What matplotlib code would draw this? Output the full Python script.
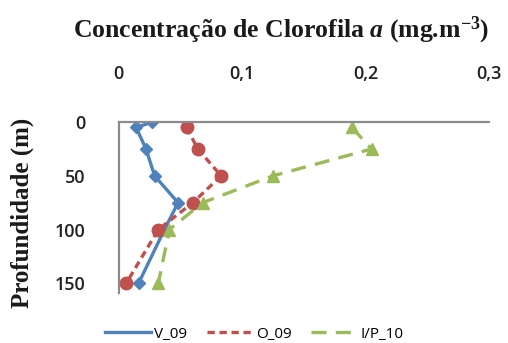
import matplotlib
matplotlib.use("Agg")
import matplotlib.pyplot as plt
from matplotlib.lines import Line2D

# -----------------------------
# Data: chlorophyll a profiles
# -----------------------------
depth_v09 = [0, 5, 25, 50, 75, 100, 150]
chl_v09 = [0.027, 0.014, 0.022, 0.029, 0.048, 0.037, 0.016]

depth_o09 = [5, 25, 50, 75, 100, 150]
chl_o09 = [0.055, 0.064, 0.083, 0.060, 0.032, 0.006]

depth_ip10 = [5, 25, 50, 75, 100, 150]
chl_ip10 = [0.189, 0.205, 0.125, 0.068, 0.041, 0.032]

x_ticks = [0, 0.1, 0.2, 0.3]
x_labels = ["0", "0,1", "0,2", "0,3"]
y_ticks = [0, 50, 100, 150]

blue = "#4F81BD"
red = "#C0504D"
green = "#9BBB59"
axis_gray = "#8C8C8C"

plt.rcParams["mathtext.fontset"] = "custom"
plt.rcParams["mathtext.it"] = "Liberation Serif:italic:bold"
plt.rcParams["mathtext.bf"] = "Liberation Serif:bold"
plt.rcParams["mathtext.rm"] = "Liberation Serif:bold"

red_dash = (0, (2.2, 1.4))
green_dash = (0, (4.5, 2.8))

# -----------------------------
# Figure setup
# -----------------------------
fig = plt.figure(figsize=(5.08, 3.43), dpi=100)
ax = fig.add_axes([0.234, 0.146, 0.728, 0.498])

ax.plot(chl_v09, depth_v09, color=blue, lw=2.4, marker="D", ms=6,
        markeredgecolor=blue, label="V_09")
ax.plot(chl_o09, depth_o09, color=red, lw=2.4, ls=red_dash, marker="o",
        ms=9, markeredgecolor=red, label="O_09")
ax.plot(chl_ip10, depth_ip10, color=green, lw=2.4, ls=green_dash, marker="^",
        ms=9, markeredgecolor=green, label="I/P_10")

ax.set_xlim(0, 0.3)
ax.set_ylim(159, 0)

ax.xaxis.tick_top()
ax.set_xticks(x_ticks)
ax.set_xticklabels(x_labels)
ax.set_yticks(y_ticks)
ax.tick_params(length=0, labelsize=13, pad=24, colors="#222222")
ax.tick_params(axis="x", pad=28)
for lab in ax.get_xticklabels() + ax.get_yticklabels():
    lab.set_fontfamily("Open Sans")
    lab.set_fontweight("semibold")

for side in ["right", "bottom"]:
    ax.spines[side].set_visible(False)
for side in ["top", "left"]:
    ax.spines[side].set_color(axis_gray)
    ax.spines[side].set_linewidth(1.6)

# -----------------------------
# Titles
# -----------------------------
fig.text(0.553, 0.913, r"Concentração de Clorofila $\mathit{a}$ (mg.m$^{\mathbf{-3}}$)",
         ha="center", va="center", fontsize=18.5, fontweight="bold",
         family="Liberation Serif", color="#1a1a1a")

fig.text(0.043, 0.379, "Profundidade (m)", rotation=90, ha="center", va="center",
         fontsize=18, fontweight="bold", family="Liberation Serif", color="#1a1a1a")

# -----------------------------
# Legend
# -----------------------------
handles = [
    Line2D([], [], color=blue, lw=2.4),
    Line2D([], [], color=red, lw=2.4, ls=red_dash),
    Line2D([], [], color=green, lw=2.4, ls=green_dash),
]
leg = fig.legend(handles, ["V_09", "O_09", "I/P_10"], loc="center",
                 bbox_to_anchor=(0.5, 0.026), ncol=3, frameon=False,
                 handlelength=3.0, handletextpad=0.2, columnspacing=1.3,
                 prop={"family": "Open Sans", "size": 11})

fig.savefig("out.png", dpi=100)
